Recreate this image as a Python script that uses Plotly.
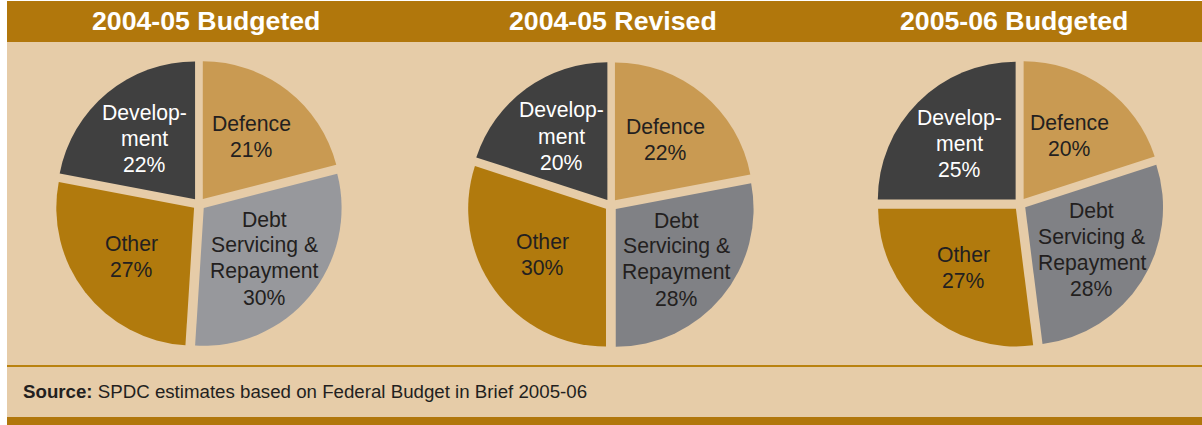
import math
import plotly.graph_objects as go

W, H = 1202, 425

# Budget shares (%) by head of expenditure
categories = ["Defence", "Debt Servicing & Repayment", "Other", "Development"]
slice_labels = [["Defence"], ["Debt", "Servicing &", "Repayment"], ["Other"], ["Develop-", "ment"]]
budgeted_0405 = [21, 30, 27, 22]
revised_0405 = [22, 28, 30, 20]
budgeted_0506 = [20, 28, 27, 25]
panel_titles = ["2004-05 Budgeted", "2004-05 Revised", "2005-06 Budgeted"]
source_note = "<b>Source:</b> SPDC estimates based on Federal Budget in Brief 2005-06"

# Styling
BROWN = "#B1770C"
BEIGE = "#E6CCA8"
TAN = "#C99A52"
GOLD = "#B17A0D"
DARK = "#404040"
GREY_LIGHT = "#97989C"
GREY = "#808185"
INK = "#231F20"
FONT = "Liberation Sans, Arial, sans-serif"
LABEL_SIZE = 21.2
LINE_GAP = 26  # px between label lines

PULL = 0.045
panels = [
    dict(values=budgeted_0405, cx=199, cy=204, grey=GREY_LIGHT, tx=206),
    dict(values=revised_0405, cx=611, cy=205, grey=GREY, tx=613),
    dict(values=budgeted_0506, cx=1020, cy=204, grey=GREY, tx=1014),
]
HALF = 144  # half of the pie box, px


def px(x):
    return x / W


def py(y):
    return 1 - y / H


fig = go.Figure()
annotations = []

for title, p in zip(panel_titles, panels):
    vals = p["values"]
    fig.add_trace(go.Pie(
        labels=categories,
        values=vals,
        sort=False,
        direction="clockwise",
        rotation=0,
        pull=[PULL] * len(vals),
        marker=dict(colors=[TAN, p["grey"], GOLD, DARK], line=dict(width=0)),
        textinfo="none",
        hoverinfo="label+percent",
        showlegend=False,
        domain=dict(x=[px(p["cx"] - HALF), px(p["cx"] + HALF)],
                    y=[py(p["cy"] + HALF), py(p["cy"] - HALF)]),
    ))

    # slice labels placed along each slice's mid-angle, one annotation per line
    total = sum(vals)
    start = 0.0
    for lab, v, col in zip(slice_labels, vals, [INK, INK, INK, "white"]):
        mid = (start + v / 2) / total * 2 * math.pi
        start += v
        dist = 0.59 * HALF
        lx = p["cx"] + dist * math.sin(mid)
        ly = p["cy"] - dist * math.cos(mid)
        lines = lab + [f"{v}%"]
        n = len(lines)
        for i, line in enumerate(lines):
            annotations.append(dict(
                x=px(lx), y=py(ly + (i - (n - 1) / 2) * LINE_GAP),
                xref="paper", yref="paper",
                text=line, showarrow=False,
                xanchor="center", yanchor="middle", align="center",
                font=dict(family=FONT, size=LABEL_SIZE, color=col),
            ))

    annotations.append(dict(
        x=px(p["tx"]), y=py(21), xref="paper", yref="paper",
        text=f"<b>{title}</b>", showarrow=False,
        xanchor="center", yanchor="middle",
        font=dict(family=FONT, size=26.7, color="white"),
    ))

annotations.append(dict(
    x=px(21), y=py(391), xref="paper", yref="paper",
    text=source_note, showarrow=False,
    xanchor="left", yanchor="middle",
    font=dict(family=FONT, size=18.7, color=INK),
))

shapes = [
    # beige panel
    dict(type="rect", xref="paper", yref="paper", x0=px(7), x1=1, y0=py(417), y1=py(42),
         fillcolor=BEIGE, line=dict(width=0), layer="below"),
    # header band
    dict(type="rect", xref="paper", yref="paper", x0=px(7), x1=1, y0=py(42), y1=py(1),
         fillcolor=BROWN, line=dict(width=0), layer="below"),
    # separator above the source note
    dict(type="rect", xref="paper", yref="paper", x0=px(7), x1=1, y0=py(367), y1=py(365),
         fillcolor="#B9820F", line=dict(width=0), layer="below"),
    # footer band
    dict(type="rect", xref="paper", yref="paper", x0=px(7), x1=1, y0=0, y1=py(417),
         fillcolor=BROWN, line=dict(width=0), layer="below"),
]

fig.update_layout(
    width=W, height=H,
    margin=dict(l=0, r=0, t=0, b=0),
    paper_bgcolor="white",
    plot_bgcolor="white",
    shapes=shapes,
    annotations=annotations,
)

fig.write_html("out.html")
